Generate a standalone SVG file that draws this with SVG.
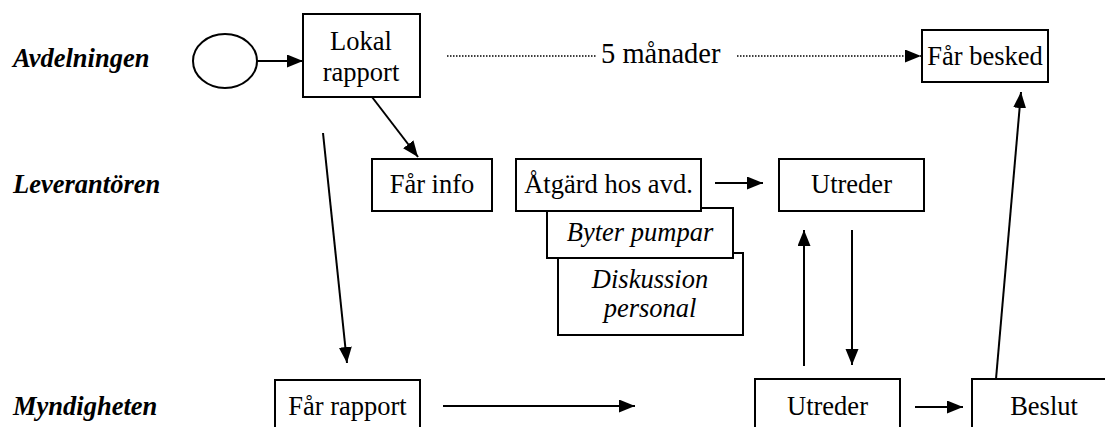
<svg xmlns="http://www.w3.org/2000/svg" width="1105" height="427" viewBox="0 0 1105 427">
<style>
text{font-family:"Liberation Serif","Times New Roman",serif;font-size:26.5px;fill:#000}
.lane{font-weight:bold;font-style:italic}
.it{font-style:italic}
.c{text-anchor:middle}
.big{font-size:28.5px}
.box{fill:#fff;stroke:#000;stroke-width:2}
.ln{stroke:#000;stroke-width:2;fill:none}
.dot{stroke:#000;stroke-width:1.5;fill:none;stroke-dasharray:1.5 1.5}
</style>
<defs>
<marker id="ah" markerUnits="userSpaceOnUse" markerWidth="18" markerHeight="14" refX="16" refY="6.5" orient="auto">
<path d="M0,0 L16,6.5 L0,13 z" fill="#000"/>
</marker>
</defs>
<g id="lanes">
<text class="lane" x="13" y="67">Avdelningen</text>
<text class="lane" x="13" y="193">Leverantören</text>
<text class="lane" x="13" y="415">Myndigheten</text>
</g>
<g id="start"><ellipse cx="225" cy="61" rx="32" ry="27" fill="#fff" stroke="#000" stroke-width="2"/></g>
<g id="lokal"><rect class="box" x="303" y="14" width="117" height="83"/><text class="c" x="361" y="50">Lokal</text><text class="c" x="361" y="81">rapport</text></g>
<g id="besked"><rect class="box" x="922" y="30" width="126" height="52"/><text class="c" x="985" y="65">Får besked</text></g>
<g id="info"><rect class="box" x="372" y="159" width="120" height="52"/><text class="c" x="432" y="193">Får info</text></g>
<g id="diskussion"><rect class="box" x="558" y="253" width="185" height="82"/><text class="c it" x="650" y="288">Diskussion</text><text class="c it" x="650" y="317">personal</text></g>
<g id="byter"><rect class="box" x="547" y="208" width="186" height="50"/><text class="c it" x="640" y="241">Byter pumpar</text></g>
<g id="atgard"><rect class="box" x="516" y="159" width="185" height="52"/><text class="c" x="608.5" y="193">Åtgärd hos avd.</text></g>
<g id="utreder1"><rect class="box" x="779" y="159" width="145" height="52"/><text class="c" x="851.5" y="193">Utreder</text></g>
<g id="rapport"><rect class="box" x="275" y="380" width="145" height="60"/><text class="c" x="347.5" y="415">Får rapport</text></g>
<g id="utreder2"><rect class="box" x="755" y="379" width="145" height="60"/><text class="c" x="827.5" y="415">Utreder</text></g>
<g id="beslut"><rect class="box" x="972" y="379" width="148" height="60"/><text class="c" x="1044" y="415">Beslut</text></g>
<g id="connectors">
<line class="ln" x1="257" y1="61" x2="303" y2="61" marker-end="url(#ah)"/>
<line class="dot" x1="447" y1="56" x2="597" y2="56"/>
<text class="big" x="601" y="63">5 månader</text>
<line class="dot" x1="737" y1="56" x2="921" y2="56" marker-end="url(#ah)"/>
<line class="ln" x1="372" y1="97" x2="418" y2="157" marker-end="url(#ah)"/>
<line class="ln" x1="323" y1="133" x2="347" y2="363" marker-end="url(#ah)"/>
<line class="ln" x1="715" y1="183" x2="763" y2="183" marker-end="url(#ah)"/>
<line class="ln" x1="804" y1="366" x2="804" y2="230" marker-end="url(#ah)"/>
<line class="ln" x1="852" y1="230" x2="852" y2="365" marker-end="url(#ah)"/>
<line class="ln" x1="443" y1="406" x2="635" y2="406" marker-end="url(#ah)"/>
<line class="ln" x1="915" y1="407" x2="963" y2="407" marker-end="url(#ah)"/>
<line class="ln" x1="996" y1="379" x2="1021" y2="92" marker-end="url(#ah)"/>
</g>
</svg>
